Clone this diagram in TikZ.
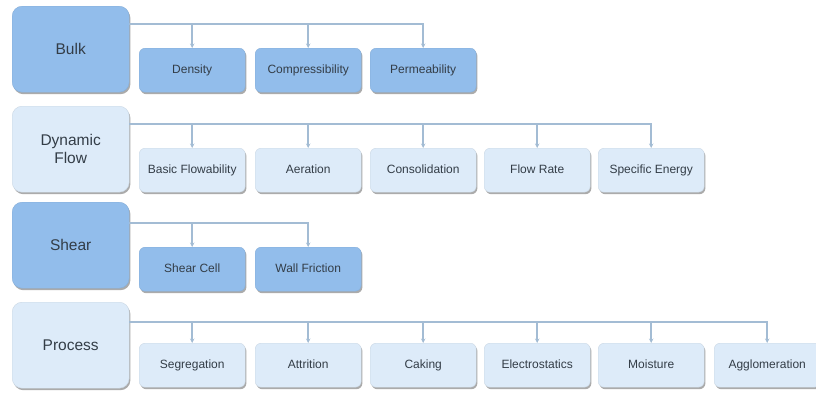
\documentclass[tikz,border=0pt]{standalone}
\usepackage{fontspec}
\setmainfont{Liberation Sans}
\usetikzlibrary{shadows,arrows.meta}
\definecolor{darkbox}{HTML}{92BDEB}
\definecolor{lightbox}{HTML}{DDEBF9}
\definecolor{conncol}{HTML}{A3BCD4}
\definecolor{txt}{HTML}{333D47}
\tikzset{
  boxshadow/.style={drop shadow={shadow xshift=1.2pt, shadow yshift=-2pt, opacity=0.5, fill=black!65}},
  mainbox/.style={rounded corners=10pt, minimum width=117pt, minimum height=86pt, anchor=north west,
     inner sep=0pt, align=center, text=txt, font=\fontsize{15.5}{18}\selectfont, boxshadow},
  subbox/.style={rounded corners=6pt, minimum width=106pt, minimum height=44pt, anchor=north west,
     inner sep=0pt, text=txt, text height=8.6pt, text depth=2.4pt, font=\fontsize{12}{14}\selectfont, boxshadow},
  darkfill/.style={fill=darkbox, draw=darkbox!92!black, line width=0.4pt},
  lightfill/.style={fill=lightbox, draw=lightbox!92!black, line width=0.4pt},
  conn/.style={draw=conncol, line width=1.6pt},
  arr/.style={conn, -{Stealth[length=4.5pt,width=4.5pt]}},
}
\begin{document}
\begin{tikzpicture}[x=1pt,y=-1pt]
\useasboundingbox (0,0) rectangle (816,394);
\clip (0,0) rectangle (816,394);
\fill[white] (0,0) rectangle (816,394);
% Bulk
\node[mainbox,darkfill] (bulk) at (12,6) {Bulk};
\node[subbox,darkfill] (density) at (139,48) {Density};
\node[subbox,darkfill] (compress) at (255,48) {Compressibility};
\node[subbox,darkfill] (perm) at (370,48) {Permeability};
\coordinate (bl) at ([yshift=-18pt]bulk.north east);
\draw[arr] (bl) -| (perm.north);
\draw[arr] (bl -| density.north) -- (density.north);
\draw[arr] (bl -| compress.north) -- (compress.north);
% Dynamic Flow
\node[mainbox,lightfill] (dyn) at (12,106) {Dynamic\\Flow};
\node[subbox,lightfill] (basic) at (139,148) {Basic Flowability};
\node[subbox,lightfill] (aer) at (255,148) {Aeration};
\node[subbox,lightfill] (cons) at (370,148) {Consolidation};
\node[subbox,lightfill] (frate) at (484,148) {Flow Rate};
\node[subbox,lightfill] (spec) at (598,148) {Specific Energy};
\coordinate (dl) at ([yshift=-18pt]dyn.north east);
\draw[arr] (dl) -| (spec.north);
\draw[arr] (dl -| basic.north) -- (basic.north);
\draw[arr] (dl -| aer.north) -- (aer.north);
\draw[arr] (dl -| cons.north) -- (cons.north);
\draw[arr] (dl -| frate.north) -- (frate.north);
% Shear
\node[mainbox,darkfill] (shear) at (12,202) {Shear};
\node[subbox,darkfill] (scell) at (139,247) {Shear Cell};
\node[subbox,darkfill] (wall) at (255,247) {Wall Friction};
\coordinate (sl) at ([yshift=-21pt]shear.north east);
\draw[arr] (sl) -| (wall.north);
\draw[arr] (sl -| scell.north) -- (scell.north);
% Process
\node[mainbox,lightfill] (proc) at (12,302) {Process};
\node[subbox,lightfill] (seg) at (139,343) {Segregation};
\node[subbox,lightfill] (attr) at (255,343) {Attrition};
\node[subbox,lightfill] (cak) at (370,343) {Caking};
\node[subbox,lightfill] (elec) at (484,343) {Electrostatics};
\node[subbox,lightfill] (moist) at (598,343) {Moisture};
\node[subbox,lightfill] (agg) at (714,343) {Agglomeration};
\coordinate (pl) at ([yshift=-20pt]proc.north east);
\draw[arr] (pl) -| (agg.north);
\draw[arr] (pl -| seg.north) -- (seg.north);
\draw[arr] (pl -| attr.north) -- (attr.north);
\draw[arr] (pl -| cak.north) -- (cak.north);
\draw[arr] (pl -| elec.north) -- (elec.north);
\draw[arr] (pl -| moist.north) -- (moist.north);
\end{tikzpicture}
\end{document}
